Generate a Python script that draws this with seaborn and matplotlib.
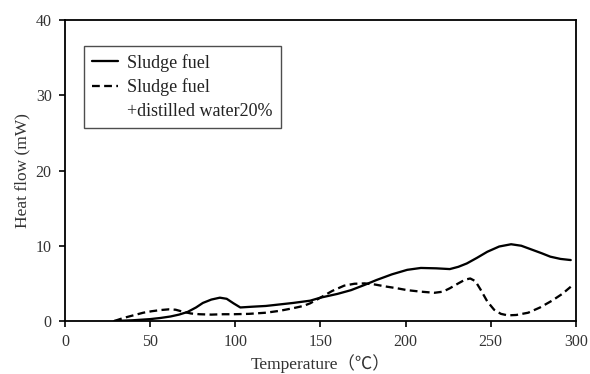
import matplotlib
matplotlib.use("Agg")
import matplotlib.pyplot as plt
from matplotlib.lines import Line2D
import seaborn as sns
import pandas as pd

# Data
temp_a = [29, 40, 50, 56, 62, 67, 72, 77, 81, 86, 91, 95, 99, 103, 110, 118, 126, 134, 144, 150,
          160, 168, 176, 183, 192, 201, 209, 218, 226, 231, 236, 242, 248, 255, 262, 268, 274, 280, 285, 291, 297]
flow_a = [0.0, 0.1, 0.25, 0.4, 0.6, 0.85, 1.2, 1.8, 2.4, 2.85, 3.1, 2.95, 2.35, 1.8, 1.9, 2.0, 2.2, 2.4, 2.7, 3.1,
          3.6, 4.1, 4.8, 5.45, 6.2, 6.8, 7.05, 7.0, 6.9, 7.2, 7.65, 8.4, 9.2, 9.9, 10.2, 10.0, 9.5, 9.0, 8.55, 8.25, 8.1]

temp_b = [29, 33, 36, 41, 46, 51, 56, 61, 65, 69, 74, 79, 86, 93, 99, 108, 118, 126, 134, 140, 144, 150,
          157, 164, 170, 176, 182, 188, 195, 201, 209, 217, 222, 226, 231, 235, 238, 241, 244, 248, 252,
          256, 260, 265, 272, 279, 286, 292, 297]
flow_b = [0.0, 0.3, 0.5, 0.8, 1.1, 1.3, 1.45, 1.55, 1.5, 1.25, 1.0, 0.9, 0.85, 0.9, 0.9, 0.95, 1.1, 1.35, 1.7, 2.0, 2.35, 3.1,
          4.0, 4.7, 4.95, 5.0, 4.85, 4.6, 4.35, 4.1, 3.9, 3.75, 3.9, 4.35, 5.0, 5.5, 5.65, 5.3, 4.2, 2.6, 1.5,
          0.95, 0.75, 0.8, 1.1, 1.8, 2.7, 3.6, 4.55]

label_a = "Sludge fuel"
label_b = "Sludge fuel"
label_b2 = "+distilled water20%"
x_ticks = [0, 50, 100, 150, 200, 250, 300]
y_ticks = [0, 10, 20, 30, 40]

sns.set_theme(style="ticks")
plt.rcParams['font.family'] = ['Liberation Serif', 'Noto Sans CJK JP', 'DejaVu Sans']

fig = plt.figure(figsize=(5.9, 3.74), dpi=100)
ax = fig.add_axes([0.110, 0.1417, 0.866, 0.8048])

df_a = pd.DataFrame({"T": temp_a, "Q": flow_a})
df_b = pd.DataFrame({"T": temp_b, "Q": flow_b})
dash = (0, (3.4, 1.9))
sns.lineplot(data=df_a, x="T", y="Q", ax=ax, color="black", linewidth=1.65, sort=False)
sns.lineplot(data=df_b, x="T", y="Q", ax=ax, color="black", linewidth=1.65, linestyle=dash, sort=False)

ax.set_xlim(0, 300)
ax.set_ylim(0, 40)
ax.set_xticks(x_ticks)
ax.set_yticks(y_ticks)
ax.tick_params(direction="out", length=4, width=1.2, pad=5.5, labelsize=11.5, colors="black",
               labelcolor="#333333")
for s in ax.spines.values():
    s.set_visible(True)
    s.set_linewidth(1.3)
    s.set_color("black")
ax.set_xlabel("Temperature\uff08\u2103\uff09", fontsize=12.5, color="#333333", labelpad=3)
ax.set_ylabel("Heat flow (mW)", fontsize=12.5, color="#333333", labelpad=4)

handles = [Line2D([], [], color="black", linewidth=1.65),
           Line2D([], [], color="black", linewidth=1.65, linestyle=dash),
           Line2D([], [], color="none", linewidth=0)]
leg = ax.legend(handles, [label_a, label_b, label_b2], loc="upper left",
                bbox_to_anchor=(0.037, 0.915), frameon=True, fancybox=False,
                fontsize=13, handlelength=1.45, handletextpad=0.5, borderpad=0.45,
                labelspacing=0.38, borderaxespad=0)
leg.get_frame().set_edgecolor("#222222")
leg.get_frame().set_linewidth(1.0)
for t in leg.get_texts():
    t.set_color("#222222")

fig.savefig("out.png", dpi=100)
